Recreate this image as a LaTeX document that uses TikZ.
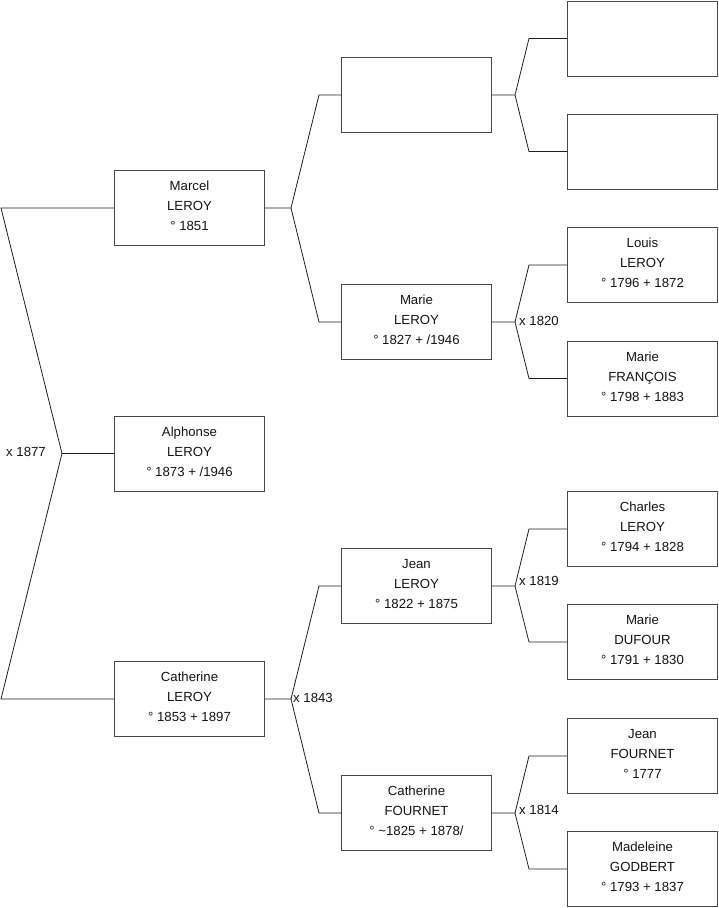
\documentclass[tikz,border=0pt]{standalone}
\usepackage{fontspec}
\setmainfont{Liberation Sans}
\begin{document}
\begin{tikzpicture}[x=1pt,y=-1pt,
  person/.style={draw=black!72, line width=0.9pt, minimum width=150pt, minimum height=75pt,
    inner sep=0pt},
  ptext/.style={align=center, font=\fontsize{13.2}{20}\selectfont, text=black!92, inner sep=0pt, yshift=2pt},
  link/.style={draw=black!88, line width=0.8pt},
  marr/.style={font=\fontsize{13.2}{15}\selectfont, inner sep=1pt, text=black!92}]
\useasboundingbox (0,0) rectangle (719,908);
% column 1
\node[person, label={[ptext]center:Marcel\\LEROY\\° 1851}] (marcel) at (189.5,208) {};
\node[person, label={[ptext]center:Alphonse\\LEROY\\° 1873 + /1946}] (alphonse) at (189.5,453.5) {};
\node[person, label={[ptext]center:Catherine\\LEROY\\° 1853 + 1897}] (catherineL) at (189.5,699) {};
% column 2
\node[person] (empty2) at (416.5,95) {};
\node[person, label={[ptext]center:Marie\\LEROY\\° 1827 + /1946}] (marieL) at (416.5,322) {};
\node[person, label={[ptext]center:Jean\\LEROY\\° 1822 + 1875}] (jeanL) at (416.5,586) {};
\node[person, label={[ptext]center:Catherine\\FOURNET\\° \textasciitilde1825 + 1878/}] (catherineF) at (416.5,813) {};
% column 3
\node[person] (emptyA) at (642.5,38.5) {};
\node[person] (emptyB) at (642.5,151.5) {};
\node[person, label={[ptext]center:Louis\\LEROY\\° 1796 + 1872}] (louis) at (642.5,265) {};
\node[person, label={[ptext]center:Marie\\FRANÇOIS\\° 1798 + 1883}] (marieF) at (642.5,378.5) {};
\node[person, label={[ptext]center:Charles\\LEROY\\° 1794 + 1828}] (charles) at (642.5,529) {};
\node[person, label={[ptext]center:Marie\\DUFOUR\\° 1791 + 1830}] (marieD) at (642.5,642) {};
\node[person, label={[ptext]center:Jean\\FOURNET\\° 1777}] (jeanF) at (642.5,756) {};
\node[person, label={[ptext]center:Madeleine\\GODBERT\\° 1793 + 1837}] (madeleine) at (642.5,869) {};
% junction coordinates
\coordinate (j0) at (62,453.5);
\coordinate (j0a) at (1,208);
\coordinate (j0b) at (1,699);
\coordinate (j1) at (291,208);
\coordinate (j1a) at (319,95);
\coordinate (j1b) at (319,322);
\coordinate (j2) at (291,699);
\coordinate (j2a) at (319,586);
\coordinate (j2b) at (319,813);
\coordinate (j3) at (515,95);
\coordinate (j3a) at (529,38.5);
\coordinate (j3b) at (529,151.5);
\coordinate (j4) at (515,322);
\coordinate (j4a) at (529,265);
\coordinate (j4b) at (529,378.5);
\coordinate (j5) at (515,586);
\coordinate (j5a) at (529,529);
\coordinate (j5b) at (529,642);
\coordinate (j6) at (515,813);
\coordinate (j6a) at (529,756);
\coordinate (j6b) at (529,869);
% connectors
\draw[link] (marcel.west) -- (j0a) -- (j0) -- (alphonse.west);
\draw[link] (j0) -- (j0b) -- (catherineL.west);
\draw[link] (marcel.east) -- (j1) -- (j1a) -- (empty2.west);
\draw[link] (j1) -- (j1b) -- (marieL.west);
\draw[link] (catherineL.east) -- (j2) -- (j2a) -- (jeanL.west);
\draw[link] (j2) -- (j2b) -- (catherineF.west);
\draw[link] (empty2.east) -- (j3) -- (j3a) -- (emptyA.west);
\draw[link] (j3) -- (j3b) -- (emptyB.west);
\draw[link] (marieL.east) -- (j4) -- (j4a) -- (louis.west);
\draw[link] (j4) -- (j4b) -- (marieF.west);
\draw[link] (jeanL.east) -- (j5) -- (j5a) -- (charles.west);
\draw[link] (j5) -- (j5b) -- (marieD.west);
\draw[link] (catherineF.east) -- (j6) -- (j6a) -- (jeanF.west);
\draw[link] (j6) -- (j6b) -- (madeleine.west);
% marriage labels
\node[marr, anchor=east] (m0) at (47,452) {x 1877};
\node[marr, anchor=west] (m2) at (292,698) {x 1843};
\node[marr, anchor=west] (m4) at (518,321) {x 1820};
\node[marr, anchor=west] (m5) at (518,581) {x 1819};
\node[marr, anchor=west] (m6) at (518,810) {x 1814};
\end{tikzpicture}
\end{document}
